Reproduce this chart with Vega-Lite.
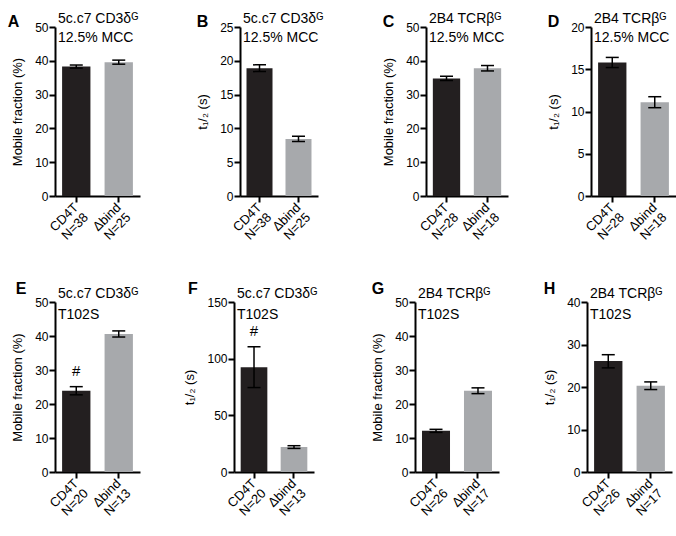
{
  "$schema": "https://vega.github.io/schema/vega-lite/v6.json",
  "padding": {"left": 7, "top": 12, "right": 0, "bottom": 0},
  "background": "white",
  "data": {"values": [
    {"panel":"A","cond":"CD4T","lab":"CD4T|N=38","value":38.3,"lo":37.85,"hi":38.75},
    {"panel":"A","cond":"Δbind","lab":"Δbind|N=25","value":39.6,"lo":39.0,"hi":40.2},
    {"panel":"B","cond":"CD4T","lab":"CD4T|N=38","value":18.9,"lo":18.4,"hi":19.4},
    {"panel":"B","cond":"Δbind","lab":"Δbind|N=25","value":8.45,"lo":8.05,"hi":8.85},
    {"panel":"C","cond":"CD4T","lab":"CD4T|N=28","value":34.8,"lo":34.2,"hi":35.4},
    {"panel":"C","cond":"Δbind","lab":"Δbind|N=18","value":37.8,"lo":37.0,"hi":38.6},
    {"panel":"D","cond":"CD4T","lab":"CD4T|N=28","value":15.8,"lo":15.2,"hi":16.4},
    {"panel":"D","cond":"Δbind","lab":"Δbind|N=18","value":11.1,"lo":10.45,"hi":11.75},
    {"panel":"E","cond":"CD4T","lab":"CD4T|N=20","value":23.9,"lo":22.7,"hi":25.1,"sig":"#"},
    {"panel":"E","cond":"Δbind","lab":"Δbind|N=13","value":40.6,"lo":39.7,"hi":41.5},
    {"panel":"F","cond":"CD4T","lab":"CD4T|N=20","value":92.5,"lo":74.5,"hi":110.5,"sig":"#"},
    {"panel":"F","cond":"Δbind","lab":"Δbind|N=13","value":22,"lo":20.8,"hi":23.2},
    {"panel":"G","cond":"CD4T","lab":"CD4T|N=26","value":12.1,"lo":11.65,"hi":12.55},
    {"panel":"G","cond":"Δbind","lab":"Δbind|N=17","value":23.9,"lo":23.05,"hi":24.75},
    {"panel":"H","cond":"CD4T","lab":"CD4T|N=26","value":26.1,"lo":24.5,"hi":27.6},
    {"panel":"H","cond":"Δbind","lab":"Δbind|N=17","value":20.3,"lo":19.4,"hi":21.2}
  ]},
  "columns": 1,
  "align": "none",
  "spacing": 37,
  "concat": [
    {"spacing": 56, "hconcat": [
      {"title": {"text": "A", "anchor": "start", "frame": "bounds", "fontSize": 16, "fontWeight": "bold", "offset": -18, "dx": -4},
       "vconcat": [{
        "width": 85, "height": 169,
        "title": {"text": ["5c.c7 CD3δᴳ", "12.5% MCC"], "anchor": "start", "frame": "group", "dx": 3, "offset": -24, "fontSize": 14, "fontWeight": "normal", "lineHeight": 19},
        "transform": [{"filter": "datum.panel === 'A'"}],
        "encoding": {"x": {"field": "lab", "type": "nominal", "sort": null, "scale": {"paddingInner": 0.333, "paddingOuter": 0.167}, "axis": {"labelExpr": "split(datum.label, '|')"}}},
        "layer": [
          {"mark": "bar", "encoding": {"y": {"field": "value", "type": "quantitative", "title": "Mobile fraction (%)", "scale": {"domain": [0, 50], "nice": false}, "axis": {"values": [0,10,20,30,40,50]}}, "color": {"field": "cond", "type": "nominal", "scale": {"domain": ["CD4T", "Δbind"], "range": ["#231f20", "#a7a9ac"]}, "legend": null}}},
          {"mark": {"type": "rule", "color": "black", "strokeWidth": 1.5}, "encoding": {"y": {"field": "lo", "type": "quantitative", "title": "Mobile fraction (%)", "scale": {"domain": [0, 50], "nice": false}, "axis": {"values": [0,10,20,30,40,50]}}, "y2": {"field": "hi"}}},
          {"mark": {"type": "tick", "color": "black", "thickness": 1.5, "size": 13, "opacity": 1}, "encoding": {"y": {"field": "hi", "type": "quantitative", "title": "Mobile fraction (%)", "scale": {"domain": [0, 50], "nice": false}, "axis": {"values": [0,10,20,30,40,50]}}}},
          {"mark": {"type": "tick", "color": "black", "thickness": 1.5, "size": 13, "opacity": 1}, "encoding": {"y": {"field": "lo", "type": "quantitative", "title": "Mobile fraction (%)", "scale": {"domain": [0, 50], "nice": false}, "axis": {"values": [0,10,20,30,40,50]}}}}
        ]
      }]},
      {"spacing": 58, "hconcat": [
        {"title": {"text": "B", "anchor": "start", "frame": "bounds", "fontSize": 16, "fontWeight": "bold", "offset": -18},
         "vconcat": [{
          "width": 78, "height": 169,
          "title": {"text": ["5c.c7 CD3δᴳ", "12.5% MCC"], "anchor": "start", "frame": "group", "dx": 3, "offset": -24, "fontSize": 14, "fontWeight": "normal", "lineHeight": 19},
          "transform": [{"filter": "datum.panel === 'B'"}],
          "encoding": {"x": {"field": "lab", "type": "nominal", "sort": null, "scale": {"paddingInner": 0.333, "paddingOuter": 0.167}, "axis": {"labelExpr": "split(datum.label, '|')"}}},
          "layer": [
            {"mark": "bar", "encoding": {"y": {"field": "value", "type": "quantitative", "title": "t₁/₂ (s)", "scale": {"domain": [0, 25], "nice": false}, "axis": {"values": [0,5,10,15,20,25]}}, "color": {"field": "cond", "type": "nominal", "scale": {"domain": ["CD4T", "Δbind"], "range": ["#231f20", "#a7a9ac"]}, "legend": null}}},
            {"mark": {"type": "rule", "color": "black", "strokeWidth": 1.5}, "encoding": {"y": {"field": "lo", "type": "quantitative", "title": "t₁/₂ (s)", "scale": {"domain": [0, 25], "nice": false}, "axis": {"values": [0,5,10,15,20,25]}}, "y2": {"field": "hi"}}},
            {"mark": {"type": "tick", "color": "black", "thickness": 1.5, "size": 13, "opacity": 1}, "encoding": {"y": {"field": "hi", "type": "quantitative", "title": "t₁/₂ (s)", "scale": {"domain": [0, 25], "nice": false}, "axis": {"values": [0,5,10,15,20,25]}}}},
            {"mark": {"type": "tick", "color": "black", "thickness": 1.5, "size": 13, "opacity": 1}, "encoding": {"y": {"field": "lo", "type": "quantitative", "title": "t₁/₂ (s)", "scale": {"domain": [0, 25], "nice": false}, "axis": {"values": [0,5,10,15,20,25]}}}}
          ]
        }]},
        {"spacing": 39, "hconcat": [
          {"title": {"text": "C", "anchor": "start", "frame": "bounds", "fontSize": 16, "fontWeight": "bold", "offset": -18},
           "vconcat": [{
            "width": 82, "height": 169,
            "title": {"text": ["2B4 TCRβᴳ", "12.5% MCC"], "anchor": "start", "frame": "group", "dx": 3, "offset": -24, "fontSize": 14, "fontWeight": "normal", "lineHeight": 19},
            "transform": [{"filter": "datum.panel === 'C'"}],
            "encoding": {"x": {"field": "lab", "type": "nominal", "sort": null, "scale": {"paddingInner": 0.333, "paddingOuter": 0.167}, "axis": {"labelExpr": "split(datum.label, '|')"}}},
            "layer": [
              {"mark": "bar", "encoding": {"y": {"field": "value", "type": "quantitative", "title": "Mobile fraction (%)", "scale": {"domain": [0, 50], "nice": false}, "axis": {"values": [0,10,20,30,40,50]}}, "color": {"field": "cond", "type": "nominal", "scale": {"domain": ["CD4T", "Δbind"], "range": ["#231f20", "#a7a9ac"]}, "legend": null}}},
              {"mark": {"type": "rule", "color": "black", "strokeWidth": 1.5}, "encoding": {"y": {"field": "lo", "type": "quantitative", "title": "Mobile fraction (%)", "scale": {"domain": [0, 50], "nice": false}, "axis": {"values": [0,10,20,30,40,50]}}, "y2": {"field": "hi"}}},
              {"mark": {"type": "tick", "color": "black", "thickness": 1.5, "size": 13, "opacity": 1}, "encoding": {"y": {"field": "hi", "type": "quantitative", "title": "Mobile fraction (%)", "scale": {"domain": [0, 50], "nice": false}, "axis": {"values": [0,10,20,30,40,50]}}}},
              {"mark": {"type": "tick", "color": "black", "thickness": 1.5, "size": 13, "opacity": 1}, "encoding": {"y": {"field": "lo", "type": "quantitative", "title": "Mobile fraction (%)", "scale": {"domain": [0, 50], "nice": false}, "axis": {"values": [0,10,20,30,40,50]}}}}
            ]
          }]},
          {"title": {"text": "D", "anchor": "start", "frame": "bounds", "fontSize": 16, "fontWeight": "bold", "offset": -18},
           "vconcat": [{
            "width": 85, "height": 169,
            "title": {"text": ["2B4 TCRβᴳ", "12.5% MCC"], "anchor": "start", "frame": "group", "dx": 3, "offset": -24, "fontSize": 14, "fontWeight": "normal", "lineHeight": 19},
            "transform": [{"filter": "datum.panel === 'D'"}],
            "encoding": {"x": {"field": "lab", "type": "nominal", "sort": null, "scale": {"paddingInner": 0.333, "paddingOuter": 0.167}, "axis": {"labelExpr": "split(datum.label, '|')"}}},
            "layer": [
              {"mark": "bar", "encoding": {"y": {"field": "value", "type": "quantitative", "title": "t₁/₂ (s)", "scale": {"domain": [0, 20], "nice": false}, "axis": {"values": [0,5,10,15,20]}}, "color": {"field": "cond", "type": "nominal", "scale": {"domain": ["CD4T", "Δbind"], "range": ["#231f20", "#a7a9ac"]}, "legend": null}}},
              {"mark": {"type": "rule", "color": "black", "strokeWidth": 1.5}, "encoding": {"y": {"field": "lo", "type": "quantitative", "title": "t₁/₂ (s)", "scale": {"domain": [0, 20], "nice": false}, "axis": {"values": [0,5,10,15,20]}}, "y2": {"field": "hi"}}},
              {"mark": {"type": "tick", "color": "black", "thickness": 1.5, "size": 13, "opacity": 1}, "encoding": {"y": {"field": "hi", "type": "quantitative", "title": "t₁/₂ (s)", "scale": {"domain": [0, 20], "nice": false}, "axis": {"values": [0,5,10,15,20]}}}},
              {"mark": {"type": "tick", "color": "black", "thickness": 1.5, "size": 13, "opacity": 1}, "encoding": {"y": {"field": "lo", "type": "quantitative", "title": "t₁/₂ (s)", "scale": {"domain": [0, 20], "nice": false}, "axis": {"values": [0,5,10,15,20]}}}}
            ]
          }]}
        ]}
      ]}
    ]},
    {"spacing": 43, "hconcat": [
      {"title": {"text": "E", "anchor": "start", "frame": "bounds", "fontSize": 16, "fontWeight": "bold", "offset": -10, "dx": 4},
       "vconcat": [{
        "width": 85, "height": 170,
        "title": {"text": ["5c.c7 CD3δᴳ", "T102S"], "anchor": "start", "frame": "group", "dx": 3, "offset": -26, "fontSize": 14, "fontWeight": "normal", "lineHeight": 21},
        "transform": [{"filter": "datum.panel === 'E'"}],
        "encoding": {"x": {"field": "lab", "type": "nominal", "sort": null, "scale": {"paddingInner": 0.333, "paddingOuter": 0.167}, "axis": {"labelExpr": "split(datum.label, '|')"}}},
        "layer": [
          {"mark": "bar", "encoding": {"y": {"field": "value", "type": "quantitative", "title": "Mobile fraction (%)", "scale": {"domain": [0, 50], "nice": false}, "axis": {"values": [0,10,20,30,40,50]}}, "color": {"field": "cond", "type": "nominal", "scale": {"domain": ["CD4T", "Δbind"], "range": ["#231f20", "#a7a9ac"]}, "legend": null}}},
          {"mark": {"type": "rule", "color": "black", "strokeWidth": 1.5}, "encoding": {"y": {"field": "lo", "type": "quantitative", "title": "Mobile fraction (%)", "scale": {"domain": [0, 50], "nice": false}, "axis": {"values": [0,10,20,30,40,50]}}, "y2": {"field": "hi"}}},
          {"mark": {"type": "tick", "color": "black", "thickness": 1.5, "size": 13, "opacity": 1}, "encoding": {"y": {"field": "hi", "type": "quantitative", "title": "Mobile fraction (%)", "scale": {"domain": [0, 50], "nice": false}, "axis": {"values": [0,10,20,30,40,50]}}}},
          {"mark": {"type": "tick", "color": "black", "thickness": 1.5, "size": 13, "opacity": 1}, "encoding": {"y": {"field": "lo", "type": "quantitative", "title": "Mobile fraction (%)", "scale": {"domain": [0, 50], "nice": false}, "axis": {"values": [0,10,20,30,40,50]}}}},
          {"transform": [{"filter": "isValid(datum.sig)"}], "mark": {"type": "text", "dy": -16, "fontSize": 15, "color": "black"}, "encoding": {"y": {"field": "hi", "type": "quantitative", "title": "Mobile fraction (%)", "scale": {"domain": [0, 50], "nice": false}, "axis": {"values": [0,10,20,30,40,50]}}, "text": {"field": "sig"}}}
        ]
      }]},
      {"spacing": 53, "hconcat": [
        {"title": {"text": "F", "anchor": "start", "frame": "bounds", "fontSize": 16, "fontWeight": "bold", "offset": -10, "dx": 4},
         "vconcat": [{
          "width": 80, "height": 170,
          "title": {"text": ["5c.c7 CD3δᴳ", "T102S"], "anchor": "start", "frame": "group", "dx": 3, "offset": -26, "fontSize": 14, "fontWeight": "normal", "lineHeight": 21},
          "transform": [{"filter": "datum.panel === 'F'"}],
          "encoding": {"x": {"field": "lab", "type": "nominal", "sort": null, "scale": {"paddingInner": 0.333, "paddingOuter": 0.167}, "axis": {"labelExpr": "split(datum.label, '|')"}}},
          "layer": [
            {"mark": "bar", "encoding": {"y": {"field": "value", "type": "quantitative", "title": "t₁/₂ (s)", "scale": {"domain": [0, 150], "nice": false}, "axis": {"values": [0,50,100,150]}}, "color": {"field": "cond", "type": "nominal", "scale": {"domain": ["CD4T", "Δbind"], "range": ["#231f20", "#a7a9ac"]}, "legend": null}}},
            {"mark": {"type": "rule", "color": "black", "strokeWidth": 1.5}, "encoding": {"y": {"field": "lo", "type": "quantitative", "title": "t₁/₂ (s)", "scale": {"domain": [0, 150], "nice": false}, "axis": {"values": [0,50,100,150]}}, "y2": {"field": "hi"}}},
            {"mark": {"type": "tick", "color": "black", "thickness": 1.5, "size": 13, "opacity": 1}, "encoding": {"y": {"field": "hi", "type": "quantitative", "title": "t₁/₂ (s)", "scale": {"domain": [0, 150], "nice": false}, "axis": {"values": [0,50,100,150]}}}},
            {"mark": {"type": "tick", "color": "black", "thickness": 1.5, "size": 13, "opacity": 1}, "encoding": {"y": {"field": "lo", "type": "quantitative", "title": "t₁/₂ (s)", "scale": {"domain": [0, 150], "nice": false}, "axis": {"values": [0,50,100,150]}}}},
            {"transform": [{"filter": "isValid(datum.sig)"}], "mark": {"type": "text", "dy": -16, "fontSize": 15, "color": "black"}, "encoding": {"y": {"field": "hi", "type": "quantitative", "title": "t₁/₂ (s)", "scale": {"domain": [0, 150], "nice": false}, "axis": {"values": [0,50,100,150]}}, "text": {"field": "sig"}}}
          ]
        }]},
        {"spacing": 44, "hconcat": [
          {"title": {"text": "G", "anchor": "start", "frame": "bounds", "fontSize": 16, "fontWeight": "bold", "offset": -10},
           "vconcat": [{
            "width": 84, "height": 170,
            "title": {"text": ["2B4 TCRβᴳ", "T102S"], "anchor": "start", "frame": "group", "dx": 3, "offset": -26, "fontSize": 14, "fontWeight": "normal", "lineHeight": 21},
            "transform": [{"filter": "datum.panel === 'G'"}],
            "encoding": {"x": {"field": "lab", "type": "nominal", "sort": null, "scale": {"paddingInner": 0.333, "paddingOuter": 0.167}, "axis": {"labelExpr": "split(datum.label, '|')"}}},
            "layer": [
              {"mark": "bar", "encoding": {"y": {"field": "value", "type": "quantitative", "title": "Mobile fraction (%)", "scale": {"domain": [0, 50], "nice": false}, "axis": {"values": [0,10,20,30,40,50]}}, "color": {"field": "cond", "type": "nominal", "scale": {"domain": ["CD4T", "Δbind"], "range": ["#231f20", "#a7a9ac"]}, "legend": null}}},
              {"mark": {"type": "rule", "color": "black", "strokeWidth": 1.5}, "encoding": {"y": {"field": "lo", "type": "quantitative", "title": "Mobile fraction (%)", "scale": {"domain": [0, 50], "nice": false}, "axis": {"values": [0,10,20,30,40,50]}}, "y2": {"field": "hi"}}},
              {"mark": {"type": "tick", "color": "black", "thickness": 1.5, "size": 13, "opacity": 1}, "encoding": {"y": {"field": "hi", "type": "quantitative", "title": "Mobile fraction (%)", "scale": {"domain": [0, 50], "nice": false}, "axis": {"values": [0,10,20,30,40,50]}}}},
              {"mark": {"type": "tick", "color": "black", "thickness": 1.5, "size": 13, "opacity": 1}, "encoding": {"y": {"field": "lo", "type": "quantitative", "title": "Mobile fraction (%)", "scale": {"domain": [0, 50], "nice": false}, "axis": {"values": [0,10,20,30,40,50]}}}}
            ]
          }]},
          {"title": {"text": "H", "anchor": "start", "frame": "bounds", "fontSize": 16, "fontWeight": "bold", "offset": -10},
           "vconcat": [{
            "width": 85, "height": 170,
            "title": {"text": ["2B4 TCRβᴳ", "T102S"], "anchor": "start", "frame": "group", "dx": 3, "offset": -26, "fontSize": 14, "fontWeight": "normal", "lineHeight": 21},
            "transform": [{"filter": "datum.panel === 'H'"}],
            "encoding": {"x": {"field": "lab", "type": "nominal", "sort": null, "scale": {"paddingInner": 0.333, "paddingOuter": 0.167}, "axis": {"labelExpr": "split(datum.label, '|')"}}},
            "layer": [
              {"mark": "bar", "encoding": {"y": {"field": "value", "type": "quantitative", "title": "t₁/₂ (s)", "scale": {"domain": [0, 40], "nice": false}, "axis": {"values": [0,10,20,30,40]}}, "color": {"field": "cond", "type": "nominal", "scale": {"domain": ["CD4T", "Δbind"], "range": ["#231f20", "#a7a9ac"]}, "legend": null}}},
              {"mark": {"type": "rule", "color": "black", "strokeWidth": 1.5}, "encoding": {"y": {"field": "lo", "type": "quantitative", "title": "t₁/₂ (s)", "scale": {"domain": [0, 40], "nice": false}, "axis": {"values": [0,10,20,30,40]}}, "y2": {"field": "hi"}}},
              {"mark": {"type": "tick", "color": "black", "thickness": 1.5, "size": 13, "opacity": 1}, "encoding": {"y": {"field": "hi", "type": "quantitative", "title": "t₁/₂ (s)", "scale": {"domain": [0, 40], "nice": false}, "axis": {"values": [0,10,20,30,40]}}}},
              {"mark": {"type": "tick", "color": "black", "thickness": 1.5, "size": 13, "opacity": 1}, "encoding": {"y": {"field": "lo", "type": "quantitative", "title": "t₁/₂ (s)", "scale": {"domain": [0, 40], "nice": false}, "axis": {"values": [0,10,20,30,40]}}}}
            ]
          }]}
        ]}
      ]}
    ]}
  ],
  "config": {
    "font": "Liberation Sans",
    "view": {"stroke": null},
    "axis": {"domainColor": "black", "domainWidth": 2, "tickColor": "black", "tickWidth": 2, "tickSize": 6, "labelColor": "black", "labelFontSize": 12, "titleColor": "black", "titleFontSize": 13, "titleFontWeight": "normal", "grid": false, "labelPadding": 1, "titlePadding": 10, "labelFont": "Liberation Sans", "titleFont": "Liberation Sans", "labelOverlap": false},
    "axisX": {"labelAngle": -45, "labelAlign": "right", "labelBaseline": "middle", "labelLineHeight": 14, "labelPadding": 3, "title": null, "labelFontSize": 13},
    "title": {"color": "black", "font": "Liberation Sans"}
  }
}
